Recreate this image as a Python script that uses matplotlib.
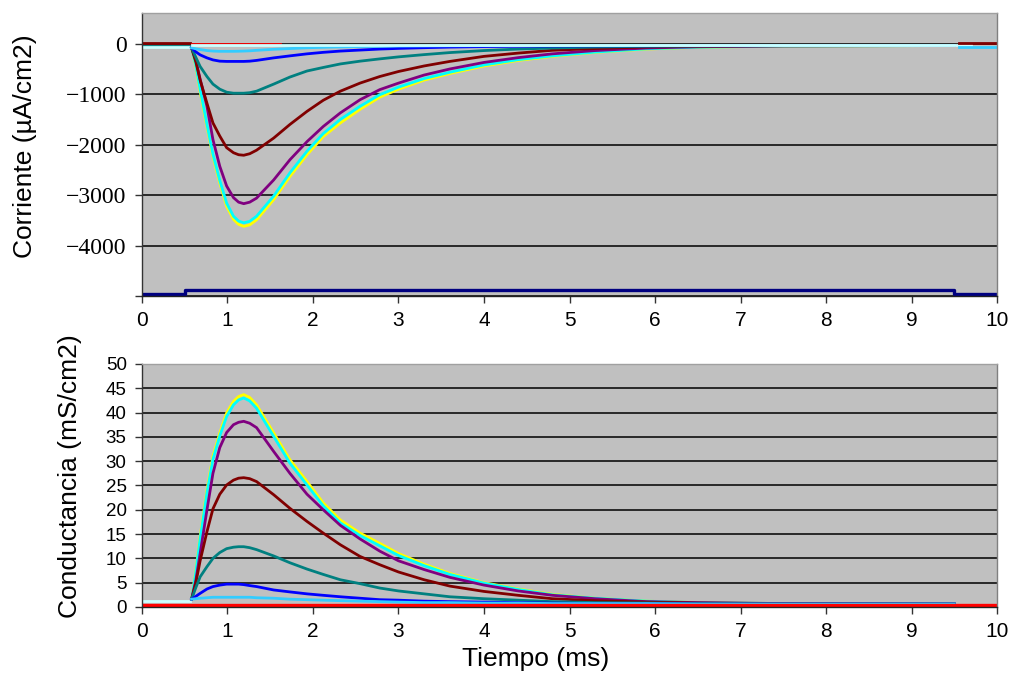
import numpy as np
import matplotlib
matplotlib.use("Agg")
import matplotlib.pyplot as plt

# tiempos de lectura (ms) comunes a las curvas del transitorio
T = [0.58, 0.63, 0.68, 0.76, 0.83, 0.91, 0.99, 1.07, 1.13, 1.19, 1.26, 1.34, 1.54, 1.73, 1.93, 2.12,
     2.32, 2.55, 2.78, 3.0, 3.3, 3.6, 4.0, 4.4, 4.8, 5.3, 5.9, 6.5, 7.5, 9.5]

# corriente (uA/cm2)
I_AMARILLO = [-80, -450, -950, -1640, -2230, -2760, -3220, -3480, -3580, -3620, -3590, -3490, -3090,
              -2630, -2200, -1840, -1570, -1300, -1060, -900, -720, -590, -440, -330, -250, -170,
              -105, -70, -45, -35]
I_CIAN = [-80, -430, -900, -1600, -2190, -2710, -3160, -3420, -3515, -3550, -3520, -3420, -3020,
          -2560, -2130, -1780, -1500, -1240, -1010, -860, -690, -565, -420, -315, -240, -165,
          -100, -68, -45, -35]
I_MORADO = [-80, -330, -700, -1240, -1900, -2430, -2820, -3050, -3140, -3170, -3140, -3060, -2700,
            -2300, -1940, -1640, -1370, -1110, -910, -780, -620, -500, -370, -275, -200, -135,
            -85, -60, -42, -35]
I_GRANATE = [-80, -360, -720, -1180, -1570, -1830, -2060, -2160, -2200, -2210, -2180, -2110, -1870,
             -1600, -1340, -1120, -940, -780, -650, -550, -440, -350, -250, -185, -130, -95,
             -65, -50, -40, -35]
I_VERDEAZUL = [-80, -270, -450, -650, -800, -900, -960, -980, -980, -980, -970, -940, -800,
               -660, -540, -470, -400, -345, -300, -260, -215, -175, -135, -105, -85, -65,
               -50, -42, -38, -35]
I_AZUL = [-80, -160, -220, -280, -320, -345, -350, -350, -350, -350, -345, -330, -280,
          -240, -200, -170, -145, -125, -105, -92, -78, -66, -56, -50, -45, -42,
          -40, -38, -36, -35]
I_CELESTE = [-80, -100, -115, -135, -145, -150, -150, -150, -148, -145, -140, -130, -110,
             -95, -80, -70, -62, -55, -50, -46, -43, -40, -38, -37, -36, -35,
             -35, -35, -35, -35]

# tramos planos
T_ROJO_I = [0.58, 1.63]
I_ROJO = [0, 0]
T_TURQ = [0.58, 9.7]
I_TURQ = [-30, -30]
T_PRE = [0, 0.56]
I_PRE_GRANATE = [15, 15]
I_PRE_AZUL = [-35, -35]
I_PRE_TURQ = [-70, -70]
T_POST = [9.55, 10]
I_POST_GRANATE = [15, 15]
I_POST_CELESTE = [-65, -65]
T_MARINO = [0, 0.5, 0.5, 9.5, 9.5, 10]
I_MARINO = [-4970, -4970, -4890, -4890, -4960, -4960]

# conductancia (mS/cm2)
G_AMARILLO = [1.6, 7.5, 14.5, 24.1, 31.0, 35.8, 39.9, 42.3, 43.3, 43.7, 43.1, 41.6, 35.8,
              30.3, 25.8, 21.4, 17.9, 15.2, 13.1, 11.0, 8.8, 6.9, 5.0, 3.7, 2.6, 1.8,
              1.2, 0.9, 0.7, 0.6]
G_CIAN = [1.6, 7.2, 14.0, 23.5, 30.4, 35.2, 39.2, 41.6, 42.6, 43.0, 42.4, 40.9, 35.1,
          29.6, 25.1, 20.8, 17.3, 14.7, 12.6, 10.6, 8.5, 6.7, 4.9, 3.6, 2.5, 1.8,
          1.2, 0.9, 0.7, 0.6]
G_MORADO = [1.6, 5.5, 11.0, 20.0, 27.5, 32.8, 35.9, 37.5, 38.0, 38.2, 37.8, 36.9, 32.0,
            27.5, 23.2, 20.0, 16.8, 14.0, 11.5, 9.5, 7.7, 6.1, 4.5, 3.3, 2.4, 1.7,
            1.1, 0.9, 0.7, 0.6]
G_GRANATE = [1.6, 5.0, 9.5, 15.5, 20.2, 23.2, 25.1, 26.1, 26.5, 26.6, 26.4, 25.8, 23.1,
             20.3, 17.6, 15.2, 12.8, 10.4, 8.7, 7.2, 5.6, 4.3, 3.2, 2.4, 1.7, 1.3,
             1.0, 0.8, 0.7, 0.6]
G_VERDEAZUL = [1.6, 4.0, 6.2, 8.3, 10.0, 11.2, 12.0, 12.3, 12.4, 12.4, 12.2, 11.8, 10.5,
               9.1, 7.8, 6.7, 5.6, 4.8, 3.9, 3.3, 2.7, 2.1, 1.7, 1.4, 1.1, 0.9,
               0.8, 0.7, 0.6, 0.6]
G_AZUL = [1.6, 2.2, 2.8, 3.7, 4.2, 4.5, 4.7, 4.7, 4.7, 4.6, 4.4, 4.2, 3.5,
          3.1, 2.7, 2.4, 2.1, 1.8, 1.5, 1.4, 1.2, 1.1, 1.0, 0.9, 0.8, 0.7,
          0.7, 0.6, 0.6, 0.6]
G_CELESTE = [1.6, 1.7, 1.8, 1.9, 2.0, 2.0, 2.0, 2.0, 2.0, 2.0, 2.0, 1.9, 1.8,
             1.6, 1.5, 1.4, 1.3, 1.2, 1.1, 1.0, 0.9, 0.9, 0.8, 0.8, 0.7, 0.7,
             0.7, 0.6, 0.6, 0.6]
T_ROJO_G = [0, 10]
G_ROJO = [0.45, 0.45]
G_PRE_TURQ = [1.3, 1.3]

COLORES = {
    "amarillo": "#FFFF00", "cian": "#00FFFF", "morado": "#800080",
    "granate": "#800000", "verdeazul": "#008080", "azul": "#0000FF",
    "celeste": "#33CCFF", "rojo": "#FF0000", "turquesa": "#CCFFFF",
    "marino": "#000080",
}

fig = plt.figure(figsize=(10.12, 6.73), dpi=100)
ax1 = fig.add_axes([0.1403, 0.5602, 0.8449, 0.4205])
ax2 = fig.add_axes([0.1403, 0.0981, 0.8449, 0.3611])

LW = 2.0

# --- panel superior: corriente
ax1.plot(T_MARINO, I_MARINO, color=COLORES["marino"], lw=2.4)
ax1.plot(T_PRE, I_PRE_GRANATE, color=COLORES["granate"], lw=LW)
ax1.plot(T_PRE, I_PRE_AZUL, color=COLORES["verdeazul"], lw=LW)
ax1.plot(T_PRE, I_PRE_TURQ, color=COLORES["turquesa"], lw=LW)
for serie, col in [(I_AMARILLO, "amarillo"), (I_CIAN, "cian"), (I_MORADO, "morado"),
                   (I_GRANATE, "granate"), (I_VERDEAZUL, "verdeazul"), (I_AZUL, "azul"),
                   (I_CELESTE, "celeste")]:
    ax1.plot(T, serie, color=COLORES[col], lw=LW, solid_joinstyle="round")
ax1.plot(T_ROJO_I, I_ROJO, color=COLORES["rojo"], lw=1.3)
ax1.plot(T_TURQ, I_TURQ, color=COLORES["turquesa"], lw=LW)
ax1.plot(T_POST, I_POST_GRANATE, color=COLORES["granate"], lw=LW)
ax1.plot(T_POST, I_POST_CELESTE, color=COLORES["celeste"], lw=LW)

ax1.set_xlim(0, 10)
ax1.set_ylim(-5000, 610)
ax1.set_xticks(range(0, 11))
ax1.set_yticks([-5000, -4000, -3000, -2000, -1000, 0])
ax1.set_yticklabels(["", "\u22124000", "\u22123000", "\u22122000", "\u22121000", "0"],
                    family="Liberation Serif", fontsize=17)
ax1.set_xticklabels([str(i) for i in range(11)], family="Liberation Sans", fontsize=15)
ax1.set_ylabel("Corriente (\u00b5A/cm2)", family="Liberation Sans", fontsize=19, va="center")
ax1.yaxis.set_label_coords(-0.137, 0.53)

# --- panel inferior: conductancia
ax2.plot(T_PRE, G_PRE_TURQ, color=COLORES["turquesa"], lw=LW)
for serie, col in [(G_AMARILLO, "amarillo"), (G_CIAN, "cian"), (G_MORADO, "morado"),
                   (G_GRANATE, "granate"), (G_VERDEAZUL, "verdeazul"), (G_AZUL, "azul"),
                   (G_CELESTE, "celeste")]:
    ax2.plot(T, serie, color=COLORES[col], lw=LW, solid_joinstyle="round")
ax2.plot(T_ROJO_G, G_ROJO, color=COLORES["rojo"], lw=2.4)

ax2.set_xlim(0, 10)
ax2.set_ylim(0, 50)
ax2.set_xticks(range(0, 11))
ax2.set_yticks(range(0, 51, 5))
narrow = ["Liberation Sans Narrow", "Liberation Sans"]
ax2.set_xticklabels([str(i) for i in range(11)], family=narrow, fontsize=15)
ax2.set_yticklabels([str(v) for v in range(0, 51, 5)], family=narrow, fontsize=13.5)
ax2.set_ylabel("Conductancia (mS/cm2)", family="Liberation Sans", fontsize=19, va="center")
ax2.yaxis.set_label_coords(-0.084, 0.54)
ax2.set_xlabel("Tiempo (ms)", family="Liberation Sans", fontsize=19, va="center")
ax2.xaxis.set_label_coords(0.46, -0.215)

for ax in (ax1, ax2):
    ax.set_facecolor("#C0C0C0")
    ax.grid(axis="y", color="black", lw=1.1)
    ax.set_axisbelow(True)
    ax.tick_params(direction="out", length=5, width=1, color="#333333", pad=6)
    ax.spines["left"].set_color("#333333")
    ax.spines["bottom"].set_color("#222222")
    ax.spines["top"].set_color("#A0A0A0")
    ax.spines["right"].set_color("#808080")
    for s in ax.spines.values():
        s.set_linewidth(1)

fig.savefig("out.png", dpi=100, facecolor="white")
